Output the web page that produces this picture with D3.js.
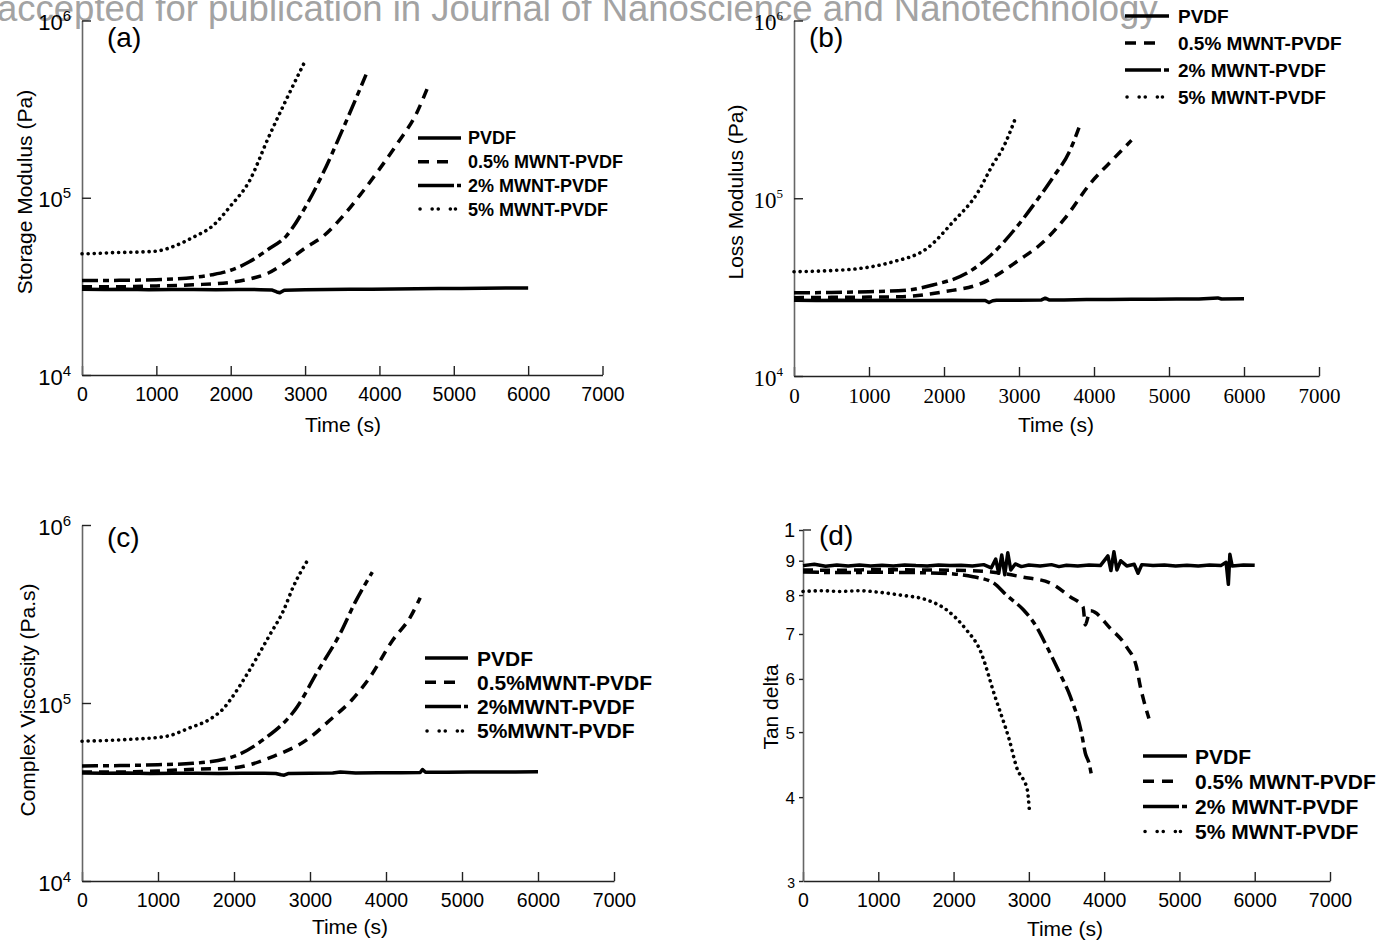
<!DOCTYPE html>
<html>
<head>
<meta charset="utf-8">
<script src="https://cdn.jsdelivr.net/npm/d3@7"></script>
<style>
  body { margin: 0; background: #fff; }
  svg { display: block; }
  text { font-family: "Liberation Sans", Arial, sans-serif; }
</style>
</head>
<body>
<svg id="fig" width="1384" height="942"></svg>
<script>
// ---------- data ----------
const namesSpaced = ["PVDF", "0.5% MWNT-PVDF", "2% MWNT-PVDF", "5% MWNT-PVDF"];
const namesTight = ["PVDF", "0.5%MWNT-PVDF", "2%MWNT-PVDF", "5%MWNT-PVDF"];
const xTicks = [0, 1000, 2000, 3000, 4000, 5000, 6000, 7000];
const logTicks = [1e4, 1e5, 1e6];
const tanTicks = [0.3, 0.4, 0.5, 0.6, 0.7, 0.8, 0.9, 1];

// (a) storage modulus, Pa
const aPvdfT = [0, 300, 600, 900, 1200, 1500, 1800, 2100, 2400, 2550, 2620, 2660, 2720, 3000, 3300, 3600, 3900, 4200, 4500, 4800, 5100, 5400, 5700, 6000];
const aPvdfV = [30500, 30400, 30500, 30300, 30400, 30400, 30300, 30400, 30300, 30200, 29400, 29100, 30100, 30300, 30400, 30500, 30500, 30600, 30700, 30800, 30800, 30900, 31000, 31000];
const a05T = [0, 500, 1000, 1500, 2000, 2250, 2500, 2750, 3000, 3250, 3500, 3750, 4000, 4250, 4500, 4640];
const a05V = [31500, 31500, 31800, 32300, 33300, 34800, 37500, 43500, 52000, 61000, 78000, 105000, 145000, 205000, 300000, 410000];
const a2T = [0, 500, 1000, 1500, 1750, 2000, 2250, 2500, 2750, 3000, 3250, 3500, 3820];
const a2V = [34100, 34200, 34500, 35500, 36800, 39000, 43500, 51000, 61000, 88000, 140000, 240000, 495000];
const a5T = [0, 200, 400, 700, 1000, 1250, 1500, 1750, 2000, 2250, 2500, 2750, 3000];
const a5V = [48300, 48500, 49000, 49300, 50000, 53500, 60000, 69000, 90000, 124000, 215000, 360000, 590000];

// (b) loss modulus, Pa
const bPvdfT = [0, 300, 600, 900, 1200, 1500, 1800, 2100, 2400, 2550, 2600, 2650, 2700, 3000, 3300, 3350, 3400, 3600, 3900, 4200, 4500, 4800, 5100, 5400, 5650, 5700, 6000];
const bPvdfV = [26700, 26600, 26700, 26600, 26700, 26600, 26600, 26700, 26600, 26600, 25900, 26500, 26700, 26700, 26800, 27400, 26800, 26800, 26900, 26900, 27000, 27000, 27100, 27100, 27500, 27100, 27200];
const b05T = [0, 500, 1000, 1400, 2000, 2500, 3000, 3300, 3600, 3950, 4250, 4500];
const b05V = [27600, 27700, 27800, 27900, 29800, 33200, 44900, 55600, 76000, 121000, 165000, 212000];
const b2T = [0, 500, 1000, 1500, 1850, 2300, 2650, 2970, 3240, 3460, 3680, 3800];
const b2V = [29400, 29500, 29800, 30400, 32500, 37800, 48900, 69000, 97500, 132000, 186000, 250000];
const b5T = [0, 500, 880, 1320, 1770, 2120, 2440, 2660, 2770, 2950];
const b5V = [38600, 39200, 40300, 43900, 52100, 73600, 106000, 157000, 186000, 280000];

// (c) complex viscosity, Pa.s
const cPvdfT = [0, 300, 600, 900, 1200, 1500, 1800, 2100, 2400, 2550, 2620, 2660, 2720, 3000, 3300, 3400, 3600, 3900, 4200, 4450, 4480, 4520, 4800, 5100, 5400, 5700, 6000];
const cPvdfV = [40400, 40300, 40400, 40200, 40300, 40300, 40200, 40300, 40300, 40200, 39500, 39300, 40200, 40300, 40400, 41000, 40400, 40500, 40600, 40700, 42300, 40800, 40800, 40900, 41000, 41000, 41100];
const c05T = [0, 500, 1000, 1500, 1950, 2510, 3000, 3260, 3550, 3790, 4090, 4320, 4450];
const c05V = [41000, 41000, 41500, 42500, 43000, 50000, 64000, 80000, 104000, 140000, 226000, 304000, 390000];
const c2T = [0, 500, 1000, 1460, 1990, 2380, 2830, 3090, 3400, 3590, 3820];
const c2V = [44300, 44500, 45000, 45800, 50000, 62000, 95000, 148000, 247000, 365000, 544000];
const c5T = [0, 300, 630, 1110, 1400, 1700, 1880, 1950, 2180, 2470, 2650, 2780, 2970];
const c5V = [61000, 61500, 62500, 65000, 72000, 82000, 95000, 104000, 147000, 241000, 330000, 450000, 635000];

// (d) tan delta
const dPvdfT = [0, 150, 300, 450, 600, 750, 900, 1050, 1200, 1350, 1500, 1650, 1800, 1950, 2100, 2250, 2400, 2500, 2560, 2600, 2640, 2680, 2720, 2760, 2820, 2900, 3000, 3150, 3300, 3400, 3500, 3650, 3800, 3950, 4050, 4090, 4130, 4170, 4220, 4300, 4400, 4450, 4500, 4650, 4800, 4950, 5100, 5250, 5400, 5550, 5620, 5650, 5670, 5700, 5850, 6000];
const dPvdfV = [0.885, 0.889, 0.883, 0.887, 0.884, 0.887, 0.884, 0.886, 0.884, 0.887, 0.885, 0.884, 0.887, 0.885, 0.886, 0.884, 0.888, 0.878, 0.905, 0.862, 0.918, 0.858, 0.925, 0.872, 0.89, 0.882, 0.887, 0.884, 0.888, 0.882, 0.886, 0.884, 0.887, 0.885, 0.915, 0.87, 0.928, 0.872, 0.9, 0.884, 0.889, 0.862, 0.888, 0.885, 0.887, 0.884, 0.886, 0.884, 0.887, 0.885, 0.895, 0.83, 0.92, 0.884, 0.887, 0.886];
const d05T = [0, 500, 1000, 1500, 2000, 2500, 2920, 3280, 3550, 3720, 3750, 3790, 3820, 4080, 4300, 4430, 4480, 4530, 4595];
const d05V = [0.872, 0.871, 0.873, 0.872, 0.871, 0.866, 0.851, 0.834, 0.795, 0.768, 0.722, 0.745, 0.758, 0.714, 0.669, 0.625, 0.585, 0.555, 0.524];
const d2T = [0, 500, 1000, 1500, 2000, 2260, 2530, 2700, 2930, 3100, 3240, 3410, 3550, 3700, 3750, 3800, 3832];
const d2V = [0.866, 0.864, 0.865, 0.864, 0.86, 0.852, 0.834, 0.8, 0.76, 0.718, 0.67, 0.612, 0.565, 0.498, 0.465, 0.449, 0.431];
const d5T = [0, 250, 500, 750, 1000, 1290, 1640, 1910, 2170, 2350, 2550, 2740, 2850, 2930, 2980, 3005];
const d5V = [0.81, 0.812, 0.81, 0.812, 0.808, 0.8, 0.787, 0.76, 0.71, 0.663, 0.565, 0.487, 0.439, 0.424, 0.41, 0.385];

// ---------- styles ----------
const plotStyles = [
  { dash: null, w: 3.5, cap: "butt" },
  { dash: "10,7", w: 3.5, cap: "butt" },
  { dash: "16,5,6,5", w: 3.5, cap: "butt" },
  { dash: "0.1,6", w: 3.6, cap: "round" }
];
const legendStyles = [
  { dash: null, cap: "butt" },
  { dash: "11,8,11,100", cap: "butt" },
  { dash: "36,3,6,100", cap: "butt" },
  { dash: "0.1,12,0.1,6,0.1,12,0.1,5,0.1,100", cap: "round" }
];

const svg = d3.select("#fig");

// journal watermark across the top
svg.append("text")
  .attr("x", -3).attr("y", 21)
  .attr("font-size", 36.5)
  .attr("fill", "#a3a3a3")
  .text("accepted for publication in Journal of Nanoscience and Nanotechnology");

const panels = [
  {
    tag: "(a)", tagX: 107, tagY: 47,
    x0: 82, x1: 602.5, yTop: 20.5, yBot: 375, yDomain: [1e4, 1e6], yTicks: logTicks, log: true,
    tickFamily: "'Liberation Sans', Arial, sans-serif", xFont: 19.5, yFont: 22, supFont: 15, supRise: 9,
    series: [[aPvdfT, aPvdfV], [a05T, a05V], [a2T, a2V], [a5T, a5V]],
    names: namesSpaced,
    ylabel: "Storage Modulus (Pa)", ylx: 32, yly: 192, xlx: 343, xly: 432,
    leg: { x: 418, len: 43, tx: 468, y0: 138, dy: 23.7, fs: 18 }
  },
  {
    tag: "(b)", tagX: 809, tagY: 47,
    x0: 794, x1: 1319, yTop: 20.5, yBot: 376, yDomain: [1e4, 1e6], yTicks: logTicks, log: true,
    tickFamily: "'Liberation Serif', 'Times New Roman', serif", xFont: 21, yFont: 23, supFont: 13, supRise: 10,
    series: [[bPvdfT, bPvdfV], [b05T, b05V], [b2T, b2V], [b5T, b5V]],
    names: namesSpaced,
    ylabel: "Loss Modulus (Pa)", ylx: 743, yly: 192, xlx: 1056, xly: 432,
    leg: { x: 1125, len: 44, tx: 1178, y0: 16, dy: 27, fs: 19 }
  },
  {
    tag: "(c)", tagX: 107, tagY: 547,
    x0: 82, x1: 614, yTop: 525, yBot: 881, yDomain: [1e4, 1e6], yTicks: logTicks, log: true,
    tickFamily: "'Liberation Sans', Arial, sans-serif", xFont: 19.5, yFont: 22, supFont: 15, supRise: 9,
    series: [[cPvdfT, cPvdfV], [c05T, c05V], [c2T, c2V], [c5T, c5V]],
    names: namesTight,
    ylabel: "Complex Viscosity (Pa.s)", ylx: 35, yly: 700, xlx: 350, xly: 934,
    leg: { x: 425, len: 43, tx: 477, y0: 658, dy: 24.3, fs: 21 }
  },
  {
    tag: "(d)", tagX: 819, tagY: 545,
    x0: 803, x1: 1330, yTop: 530, yBot: 881, yDomain: [0.3, 1], yTicks: tanTicks, log: false,
    tickFamily: "'Liberation Sans', Arial, sans-serif", xFont: 19.5, yFont: 17,
    series: [[dPvdfT, dPvdfV], [d05T, d05V], [d2T, d2V], [d5T, d5V]],
    names: namesSpaced,
    ylabel: "Tan delta", ylx: 778, yly: 707, xlx: 1065, xly: 936,
    leg: { x: 1143, len: 44, tx: 1195, y0: 756, dy: 25.2, fs: 21 }
  }
];

function drawPanel(p) {
  const g = svg.append("g");
  const x = d3.scaleLinear().domain([0, 7000]).range([p.x0, p.x1]);
  const y = d3.scaleLog().domain(p.yDomain).range([p.yBot, p.yTop]);

  // bottom axis, ticks pointing up
  const gx = g.append("g")
    .attr("transform", `translate(0,${p.yBot})`)
    .call(d3.axisBottom(x).tickValues(xTicks).tickFormat(d3.format("d"))
      .tickSizeInner(-9).tickSizeOuter(0).tickPadding(12));
  gx.attr("font-family", null).attr("font-size", null);
  gx.select(".domain").attr("stroke", "#222").attr("stroke-width", 1.6);
  gx.selectAll(".tick line").attr("stroke", "#222").attr("stroke-width", 1.4);
  gx.selectAll(".tick text")
    .style("font-family", p.tickFamily)
    .attr("font-size", p.xFont)
    .attr("fill", "#000");

  // left axis
  const gy = g.append("g")
    .attr("transform", `translate(${p.x0},0)`)
    .call(d3.axisLeft(y).tickValues(p.yTicks)
      .tickSizeInner(p.log ? -9 : 4).tickSizeOuter(0)
      .tickPadding(p.log ? 11 : 4).tickFormat(""));
  gy.attr("font-family", null).attr("font-size", null);
  gy.select(".domain").attr("stroke", "#666").attr("stroke-width", 1.6);
  gy.selectAll(".tick line").attr("stroke", "#222").attr("stroke-width", 1.4);
  gy.selectAll(".tick text").each(function (d) {
    const t = d3.select(this).attr("dy", null).style("font-family", p.tickFamily).attr("fill", "#000");
    if (p.log) {
      t.attr("y", 9);
      t.append("tspan").attr("font-size", p.yFont).text("10");
      t.append("tspan").attr("font-size", p.supFont).attr("dy", -p.supRise)
        .text(Math.round(Math.log10(d)));
    } else {
      t.attr("y", 6).attr("font-size", d === 1 ? 20 : (d === 0.3 ? 14 : p.yFont))
        .text(d === 1 ? "1" : String(Math.round(d * 10)));
    }
  });
  if (!p.log) {
    // little inward tick at the top value
    gy.append("line").attr("x1", 0).attr("x2", 8).attr("y1", y(1)).attr("y2", y(1))
      .attr("stroke", "#222").attr("stroke-width", 1.4);
  }

  // curves
  p.series.forEach(([T, V], i) => {
    const pts = T.map((t, k) => [t, V[k]]);
    const line = d3.line()
      .x(d => x(d[0]))
      .y(d => y(d[1]))
      .curve(i === 0 ? d3.curveLinear : d3.curveMonotoneX);
    const s = plotStyles[i];
    g.append("path")
      .attr("d", line(pts))
      .attr("fill", "none")
      .attr("stroke", "#000")
      .attr("stroke-width", s.w)
      .attr("stroke-linejoin", "round")
      .attr("stroke-linecap", s.cap)
      .attr("stroke-dasharray", s.dash);
  });

  // legend
  p.names.forEach((name, i) => {
    const yy = p.leg.y0 + i * p.leg.dy;
    const s = legendStyles[i];
    g.append("line")
      .attr("x1", p.leg.x + (s.cap === "round" ? 2 : 0)).attr("x2", p.leg.x + p.leg.len)
      .attr("y1", yy).attr("y2", yy)
      .attr("stroke", "#000").attr("stroke-width", 3.5)
      .attr("stroke-linecap", s.cap)
      .attr("stroke-dasharray", s.dash);
    g.append("text")
      .attr("x", p.leg.tx).attr("y", yy).attr("dy", "0.36em")
      .attr("font-size", p.leg.fs).attr("font-weight", "bold")
      .text(name);
  });

  // titles
  g.append("text")
    .attr("transform", `translate(${p.ylx},${p.yly}) rotate(-90)`)
    .attr("text-anchor", "middle")
    .attr("font-size", 21)
    .text(p.ylabel);
  g.append("text")
    .attr("x", p.xlx).attr("y", p.xly)
    .attr("text-anchor", "middle")
    .attr("font-size", 21)
    .text("Time (s)");
  g.append("text")
    .attr("x", p.tagX).attr("y", p.tagY)
    .attr("font-size", 28)
    .text(p.tag);
}

panels.forEach(drawPanel);
</script>
</body>
</html>
